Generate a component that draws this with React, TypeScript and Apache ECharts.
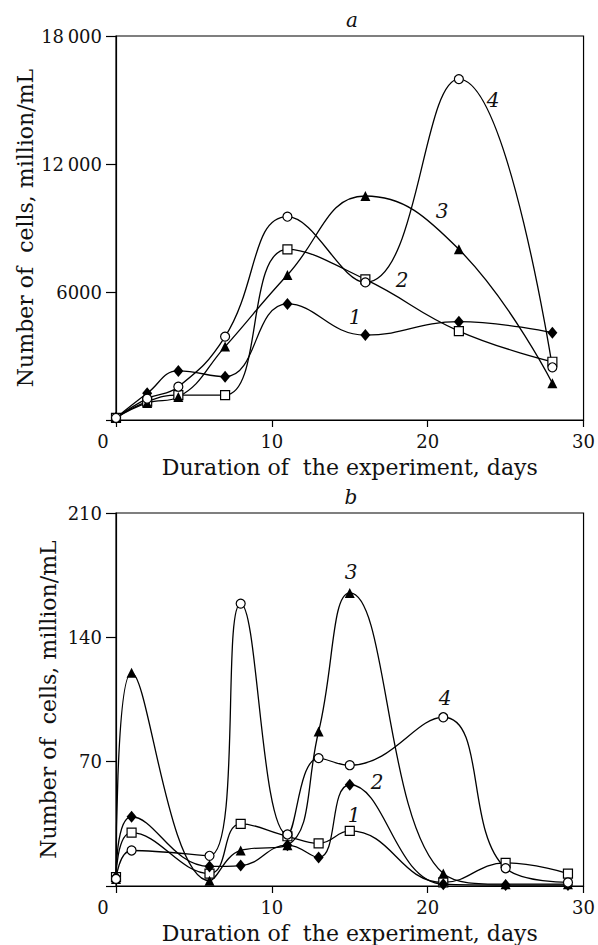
import React, { useEffect, useRef } from "react";
import * as echarts from "echarts";

// Panel a
const daysA = [0, 2, 4, 7, 11, 16, 22, 28];
const a1Diamond = [100, 1250, 2300, 2030, 5440, 3980, 4610, 4090];
const a2Square = [100, 860, 1170, 1170, 8000, 6590, 4170, 2730];
const a3Triangle = [100, 800, 1080, 3440, 6800, 10500, 8000, 1720];
const a4Circle = [100, 1000, 1560, 3910, 9530, 6450, 15980, 2470];

// Panel b
const daysB = [0, 1, 6, 8, 11, 13, 15, 21, 25, 29];
const b1Square = [5, 30, 7, 35, 28, 24, 31, 2, 13, 7];
const b2Diamond = [5, 39, 11, 11.5, 23, 16, 57, 1, 0.5, 0.5];
const b3Triangle = [4, 120, 3, 20, 23, 87, 165, 7, 1, 1];
const b4Circle = [4, 20, 17, 159, 29, 72, 68, 95, 10, 2];

const yTicksA = [0, 6000, 12000, 18000];
const yTicksB = [0, 70, 140, 210];
const xTicks = [0, 10, 20, 30];

const FONT = "DejaVu Serif";

function fmtThousands(v: number): string {
  if (v === 0) return "";
  if (v >= 10000) {
    const s = String(v);
    return s.slice(0, s.length - 3) + "\u2009" + s.slice(s.length - 3);
  }
  return String(v);
}

function makeSeries(
  xs: number[],
  ys: number[],
  symbol: string,
  filled: boolean,
  idx: number,
  size: number | number[]
) {
  return {
    type: "line",
    xAxisIndex: idx,
    yAxisIndex: idx,
    data: xs.map((x, i) => [x, ys[i]]),
    smooth: 0.45,
    clip: false,
    symbol,
    symbolSize: size,
    showSymbol: true,
    lineStyle: { color: "#000", width: 1.3 },
    itemStyle: {
      color: filled ? "#000" : "#fff",
      borderColor: "#000",
      borderWidth: filled ? 0 : 1.2,
      opacity: 1,
    },
    z: 3,
  };
}

function xAxisDef(idx: number) {
  return {
    type: "value",
    gridIndex: idx,
    min: xTicks[0],
    max: xTicks[xTicks.length - 1],
    interval: 10,
    name: "Duration of  the experiment, days",
    nameLocation: "middle",
    nameGap: 36,
    nameMoveOverlap: false,
    nameTextStyle: { fontFamily: FONT, fontSize: 22, color: "#111" },
    axisLine: { show: true, onZero: false, lineStyle: { color: "#000", width: 1.2 } },
    axisTick: { show: true, inside: false, length: 7, lineStyle: { color: "#000", width: 1.2 } },
    splitLine: { show: false },
    axisLabel: {
      margin: 12,
      fontFamily: FONT,
      fontSize: 18,
      color: "#111",
      formatter: (v: number) => (v === 0 ? "{z|0}" : String(v)),
      rich: { z: { fontFamily: FONT, fontSize: 18, color: "#111", padding: [0, 26, 0, 0] } },
    },
  };
}

function yAxisDef(idx: number, ticks: number[], gap: number) {
  return {
    type: "value",
    gridIndex: idx,
    min: ticks[0],
    max: ticks[ticks.length - 1],
    interval: ticks[1] - ticks[0],
    name: "Number of  cells, million/mL",
    nameLocation: "middle",
    nameGap: gap,
    nameMoveOverlap: false,
    nameTextStyle: { fontFamily: FONT, fontSize: 22, color: "#111" },
    axisLine: { show: true, onZero: false, lineStyle: { color: "#000", width: 1.2 } },
    axisTick: { show: true, inside: false, length: 10, lineStyle: { color: "#000", width: 1.2 } },
    splitLine: { show: false },
    axisLabel: {
      margin: 14,
      fontFamily: FONT,
      fontSize: 18,
      color: "#111",
      formatter: fmtThousands,
    },
  };
}

function label(text: string, x: number, y: number) {
  return {
    type: "text",
    x,
    y,
    z: 10,
    style: {
      text,
      fontFamily: FONT,
      fontStyle: "italic",
      fontSize: 20,
      fill: "#111",
      align: "center",
      verticalAlign: "middle",
    },
  };
}

export default function App() {
  const ref = useRef<HTMLDivElement>(null);
  useEffect(() => {
    if (!ref.current) return;
    const chart = echarts.init(ref.current, null, { renderer: "svg" });
    chart.setOption({
      animation: false,
      backgroundColor: "#fff",
      grid: [
        { left: 116, top: 36, width: 470, height: 384, show: true, borderColor: "#000", borderWidth: 1.2, backgroundColor: "transparent" },
        { left: 116, top: 513, width: 470, height: 374, show: true, borderColor: "#000", borderWidth: 1.2, backgroundColor: "transparent" },
      ],
      xAxis: [xAxisDef(0), xAxisDef(1)],
      yAxis: [yAxisDef(0, yTicksA, 80), yAxisDef(1, yTicksB, 57)],
      series: [
        makeSeries(daysA, a1Diamond, "diamond", true, 0, [10, 12]),
        makeSeries(daysA, a2Square, "rect", false, 0, 9),
        makeSeries(daysA, a3Triangle, "triangle", true, 0, 10),
        makeSeries(daysA, a4Circle, "circle", false, 0, 9),
        makeSeries(daysB, b1Square, "rect", false, 1, 9),
        makeSeries(daysB, b2Diamond, "diamond", true, 1, [10, 12]),
        makeSeries(daysB, b3Triangle, "triangle", true, 1, 10),
        makeSeries(daysB, b4Circle, "circle", false, 1, 9),
      ],
      graphic: [
        label("a", 352, 20),
        label("b", 351, 497),
        label("4", 493, 100),
        label("3", 442, 211),
        label("2", 402, 280),
        label("1", 355, 317),
        label("3", 351, 572),
        label("4", 445, 698),
        label("2", 377, 782),
        label("1", 354, 815),
      ],
    });
    return () => chart.dispose();
  }, []);
  return (
    <div
      ref={ref}
      style={{ position: "absolute", left: 0, top: 0, width: 598, height: 945, background: "#fff" }}
    />
  );
}
